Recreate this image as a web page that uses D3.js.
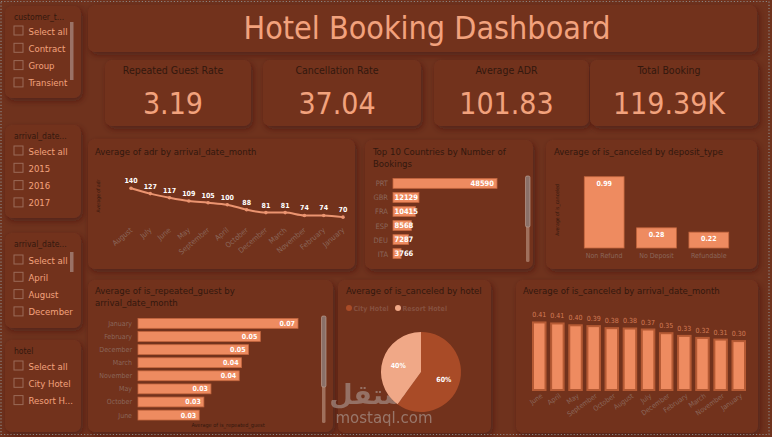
<!DOCTYPE html>
<html>
<head>
<meta charset="utf-8">
<script src="https://cdn.jsdelivr.net/npm/d3@7"></script>
<style>
  html, body { margin: 0; padding: 0; background: #6f321d; }
  svg { display: block; font-family: "DejaVu Sans Condensed", "Liberation Sans Narrow", "Roboto", sans-serif; }
</style>
</head>
<body>
<div id="dash"></div>
<script>
//----------------------------------------------------------------
// data read from the dashboard
var customerTypes = ["Select all", "Contract", "Group", "Transient"];
var yearItems = ["Select all", "2015", "2016", "2017"];
var monthItems = ["Select all", "April", "August", "December"];
var hotelItems = ["Select all", "City Hotel", "Resort H..."];

var kpiLabels = ["Repeated Guest Rate", "Cancellation Rate", "Average ADR", "Total Booking"];
var kpiValues = ["3.19", "37.04", "101.83", "119.39K"];

var adrMonths = ["August", "July", "June", "May", "September", "April", "October", "December", "March", "November", "February", "January"];
var adrValues = [140, 127, 117, 109, 105, 100, 88, 81, 81, 74, 74, 70];

var countries = ["PRT", "GBR", "FRA", "ESP", "DEU", "ITA"];
var countryBookings = [48590, 12129, 10415, 8568, 7287, 3766];

var depositTypes = ["Non Refund", "No Deposit", "Refundable"];
var depositCancel = [0.99, 0.28, 0.22];

var repeatMonths = ["January", "February", "December", "March", "November", "May", "October", "June"];
var repeatValues = [0.068, 0.052, 0.047, 0.044, 0.043, 0.031, 0.028, 0.026];

var hotelNames = ["City Hotel", "Resort Hotel"];
var hotelCancel = [0.42, 0.28];

var cancelMonths = ["June", "April", "May", "September", "October", "August", "July", "December", "February", "March", "November", "January"];
var cancelValues = [0.414, 0.408, 0.397, 0.392, 0.38, 0.378, 0.372, 0.35, 0.334, 0.322, 0.312, 0.303];

//----------------------------------------------------------------
// colours
var bg = "#6f321d", card = "#72331e", salmon = "#f2a27d", barFill = "#ee8b60",
    barLine = "#c4673f", darkText = "#33180e", axisText = "#8a665a";

var W = 772, H = 437;
var svg = d3.select("#dash").append("svg").attr("width", W).attr("height", H);

var defs = svg.append("defs");
var sh = defs.append("filter").attr("id", "shadow")
  .attr("x", "-10%").attr("y", "-10%").attr("width", "125%").attr("height", "130%");
sh.append("feDropShadow").attr("dx", 2).attr("dy", 3).attr("stdDeviation", 3)
  .attr("flood-color", "#3a170a").attr("flood-opacity", 0.55);

svg.append("rect").attr("width", W).attr("height", H).attr("fill", bg);

function cardBox(x, y, w, h) {
  svg.append("rect").attr("x", x).attr("y", y).attr("width", w).attr("height", h)
    .attr("rx", 7).attr("fill", card).attr("filter", "url(#shadow)");
}
function title(x, y, lines, size) {
  var t = svg.append("text").attr("x", x).attr("y", y).attr("fill", darkText)
    .attr("font-size", size || 9.5);
  lines.forEach(function (l, i) {
    t.append("tspan").attr("x", x).attr("dy", i ? 12 : 0).text(l);
  });
}
function scrollbar(x, y1, y2, thumbEnd) {
  svg.append("rect").attr("x", x).attr("y", y1).attr("width", 3.5).attr("height", y2 - y1)
    .attr("rx", 1.5).attr("fill", "#a0705c");
  svg.append("rect").attr("x", x - 0.5).attr("y", y1).attr("width", 4.5).attr("height", thumbEnd - y1)
    .attr("rx", 1.5).attr("fill", "#8a7068").attr("stroke", "#c2a89c").attr("stroke-width", 0.6);
}

//----------------------------------------------------------------
// slicers on the left
function slicer(y, h, name, items, rowY, bar) {
  cardBox(5, y, 76, h);
  svg.append("text").attr("x", 14).attr("y", y + 14).attr("font-size", 8.5)
    .attr("fill", darkText).text(name);
  items.forEach(function (it, i) {
    var cy = rowY + i * 17.3;
    svg.append("rect").attr("x", 14).attr("y", cy - 5).attr("width", 9).attr("height", 9)
      .attr("fill", "none").attr("stroke", "#9a6a58").attr("stroke-width", 1);
    svg.append("text").attr("x", 28.5).attr("y", cy + 3.5).attr("font-size", 9.5)
      .attr("fill", salmon).text(it);
  });
  if (bar) {
    svg.append("rect").attr("x", 70).attr("y", bar[0]).attr("width", 3.5)
      .attr("height", bar[1] - bar[0]).attr("fill", "#9a7266");
  }
}
slicer(6, 92, "customer_t...", customerTypes, 31, [22, 80]);
slicer(125, 93, "arrival_date...", yearItems, 151, null);
slicer(233, 95, "arrival_date...", monthItems, 260, [252, 272]);
slicer(340, 92, "hotel", hotelItems, 366, null);

//----------------------------------------------------------------
// title and KPI cards
cardBox(88, 5, 669, 47);
svg.append("text").attr("x", 427).attr("y", 39).attr("text-anchor", "middle")
  .attr("font-size", 32).attr("fill", salmon).text("Hotel Booking Dashboard");

var kpiX = [105, 263, 434, 590], kpiW = [146, 158, 155, 168];
kpiLabels.forEach(function (l, i) {
  cardBox(kpiX[i], 60, kpiW[i], 66);
  var cx = kpiX[i] + kpiW[i] / 2 - 5;
  svg.append("text").attr("x", cx).attr("y", 74).attr("text-anchor", "middle")
    .attr("font-size", 10.5).attr("fill", darkText).text(l);
  svg.append("text").attr("x", cx).attr("y", 114).attr("text-anchor", "middle")
    .attr("font-size", 30).attr("fill", salmon).text(kpiValues[i]);
});

//----------------------------------------------------------------
// Average of adr by month (line)
cardBox(88, 139, 267, 130);
title(95, 155, ["Average of adr by arrival_date_month"]);
svg.append("text").attr("transform", "translate(100,196) rotate(-90)")
  .attr("text-anchor", "middle").attr("font-size", 5).attr("fill", darkText).text("Average of adr");

var xAdr = d3.scalePoint().domain(adrMonths).range([131, 343]);
var yAdr = d3.scaleLinear().domain([0, 160]).range([246, 180]);
var line = d3.line().x(function (d, i) { return xAdr(adrMonths[i]); })
  .y(function (d) { return yAdr(d); }).curve(d3.curveMonotoneX);
svg.append("path").datum(adrValues).attr("d", line).attr("fill", "none")
  .attr("stroke", "#eb9470").attr("stroke-width", 2);
svg.selectAll(".adrPt").data(adrValues).enter().append("circle")
  .attr("cx", function (d, i) { return xAdr(adrMonths[i]); })
  .attr("cy", function (d) { return yAdr(d); })
  .attr("r", 1.8).attr("fill", "#eb9470");
svg.selectAll(".adrLbl").data(adrValues).enter().append("text")
  .attr("x", function (d, i) { return xAdr(adrMonths[i]); })
  .attr("y", function (d) { return yAdr(d) - 5; })
  .attr("text-anchor", "middle").attr("font-size", 7).attr("font-weight", "bold")
  .attr("fill", "#fff").text(function (d) { return d; });
svg.selectAll(".adrX").data(adrMonths).enter().append("text")
  .attr("transform", function (d) { return "translate(" + (xAdr(d) + 2) + ",231) rotate(-40)"; })
  .attr("text-anchor", "end").attr("font-size", 7.5).attr("fill", axisText).text(function (d) { return d; });

//----------------------------------------------------------------
// Top 10 countries (horizontal bars)
cardBox(365, 140, 168, 129);
title(373, 155, ["Top 10 Countries by Number of", "Bookings"]);
var yCty = d3.scaleBand().domain(countries).range([178.5, 258.5]).paddingInner(0.3);
var xCty = d3.scaleLinear().domain([0, 48590]).range([393, 497]);
svg.selectAll(".ctyBar").data(countries).enter().append("rect")
  .attr("x", xCty(0)).attr("y", function (d) { return yCty(d); })
  .attr("width", function (d, i) { return xCty(countryBookings[i]) - xCty(0); })
  .attr("height", yCty.bandwidth()).attr("fill", barFill).attr("stroke", barLine).attr("stroke-width", 0.8);
svg.selectAll(".ctyLbl").data(countries).enter().append("text")
  .attr("x", function (d, i) { return i === 0 ? xCty(countryBookings[i]) - 3 : xCty(0) + 1.5; })
  .attr("y", function (d) { return yCty(d) + yCty.bandwidth() / 2 + 2.5; })
  .attr("text-anchor", function (d, i) { return i === 0 ? "end" : "start"; })
  .attr("font-size", 7.5).attr("font-weight", "bold").attr("fill", "#fff")
  .text(function (d, i) { return countryBookings[i]; });
svg.selectAll(".ctyY").data(countries).enter().append("text")
  .attr("x", 388).attr("y", function (d) { return yCty(d) + yCty.bandwidth() / 2 + 3; })
  .attr("text-anchor", "end").attr("font-size", 7.5).attr("fill", axisText).text(function (d) { return d; });
scrollbar(526, 176, 262, 227);

//----------------------------------------------------------------
// Average of is_canceled by deposit_type
cardBox(546, 140, 211, 129);
title(554, 155, ["Average of is_canceled by deposit_type"]);
svg.append("text").attr("transform", "translate(559,210) rotate(-90)")
  .attr("text-anchor", "middle").attr("font-size", 5).attr("fill", darkText).text("Average of is_canceled");
var xDep = d3.scaleBand().domain(depositTypes).range([578, 735]).paddingInner(0.24).paddingOuter(0.12);
var yDep = d3.scaleLinear().domain([0, 1]).range([248, 176]);
svg.selectAll(".depBar").data(depositTypes).enter().append("rect")
  .attr("x", function (d) { return xDep(d); })
  .attr("y", function (d, i) { return yDep(depositCancel[i]); })
  .attr("width", xDep.bandwidth())
  .attr("height", function (d, i) { return yDep(0) - yDep(depositCancel[i]); })
  .attr("fill", barFill).attr("stroke", barLine).attr("stroke-width", 0.8);
svg.selectAll(".depLbl").data(depositTypes).enter().append("text")
  .attr("x", function (d) { return xDep(d) + xDep.bandwidth() / 2; })
  .attr("y", function (d, i) { return yDep(depositCancel[i]) + 9; })
  .attr("text-anchor", "middle").attr("font-size", 7).attr("font-weight", "bold").attr("fill", "#fff")
  .text(function (d, i) { return d3.format(".2f")(depositCancel[i]); });
svg.selectAll(".depX").data(depositTypes).enter().append("text")
  .attr("x", function (d) { return xDep(d) + xDep.bandwidth() / 2; })
  .attr("y", 258).attr("text-anchor", "middle").attr("font-size", 7).attr("fill", axisText)
  .text(function (d) { return d; });

//----------------------------------------------------------------
// Average of is_repeated_guest by month
cardBox(88, 280, 245, 152);
title(95, 294, ["Average of is_repeated_guest by", "arrival_date_month"]);
var yRep = d3.scaleBand().domain(repeatMonths).range([318.5, 420]).paddingInner(0.25);
var xRep = d3.scaleLinear().domain([0, 0.068]).range([138, 298]);
svg.selectAll(".repBar").data(repeatMonths).enter().append("rect")
  .attr("x", xRep(0)).attr("y", function (d) { return yRep(d); })
  .attr("width", function (d, i) { return xRep(repeatValues[i]) - xRep(0); })
  .attr("height", yRep.bandwidth()).attr("fill", barFill).attr("stroke", barLine).attr("stroke-width", 0.8);
svg.selectAll(".repLbl").data(repeatMonths).enter().append("text")
  .attr("x", function (d, i) { return xRep(repeatValues[i]) - 3; })
  .attr("y", function (d) { return yRep(d) + yRep.bandwidth() / 2 + 2.5; })
  .attr("text-anchor", "end").attr("font-size", 7).attr("font-weight", "bold").attr("fill", "#fff")
  .text(function (d, i) { return d3.format(".2f")(repeatValues[i]); });
svg.selectAll(".repY").data(repeatMonths).enter().append("text")
  .attr("x", 132).attr("y", function (d) { return yRep(d) + yRep.bandwidth() / 2 + 2.5; })
  .attr("text-anchor", "end").attr("font-size", 7).attr("fill", axisText).text(function (d) { return d; });
svg.append("text").attr("x", 228).attr("y", 427).attr("text-anchor", "middle")
  .attr("font-size", 5.5).attr("fill", darkText).text("Average of is_repeated_guest");
scrollbar(322, 316, 423, 387);

//----------------------------------------------------------------
// Average of is_canceled by hotel (pie)
cardBox(338, 280, 153, 153);
title(346, 294, ["Average of is_canceled by hotel"]);
var pieCol = d3.scaleOrdinal().domain(hotelNames).range(["#a94b27", "#f0a887"]);
var legX = [349, 398];
hotelNames.forEach(function (h, i) {
  svg.append("circle").attr("cx", legX[i]).attr("cy", 308).attr("r", 3).attr("fill", pieCol(h));
  svg.append("text").attr("x", legX[i] + 4.5).attr("y", 310.5).attr("font-size", 7)
    .attr("font-weight", "bold").attr("fill", "#85503f").text(h);
});
var pie = d3.pie().sort(null);
var arc = d3.arc().innerRadius(0).outerRadius(40);
var lblArc = d3.arc().innerRadius(24).outerRadius(24);
var pieTotal = d3.sum(hotelCancel);
var pg = svg.append("g").attr("transform", "translate(421,372)");
pg.selectAll("path").data(pie(hotelCancel)).enter().append("path")
  .attr("d", arc).attr("fill", function (d, i) { return pieCol(hotelNames[i]); });

//----------------------------------------------------------------
// watermark (under the pie labels)
svg.append("text").attr("x", 428).attr("y", 404).attr("text-anchor", "end")
  .attr("font-family", "DejaVu Sans, sans-serif").attr("font-size", 27).attr("font-weight", "bold")
  .attr("fill", "#a9948c").attr("opacity", 0.65).text("مستقل");
svg.append("text").attr("x", 384).attr("y", 423).attr("text-anchor", "middle")
  .attr("font-family", "DejaVu Sans, sans-serif").attr("font-size", 15)
  .attr("fill", "#a9948c").attr("opacity", 0.7).text("mostaql.com");

pg.selectAll("text").data(pie(hotelCancel)).enter().append("text")
  .attr("transform", function (d) { return "translate(" + lblArc.centroid(d) + ")"; })
  .attr("dy", 3).attr("text-anchor", "middle").attr("font-size", 7).attr("font-weight", "bold")
  .attr("fill", "#fff").text(function (d) { return d3.format(".0%")(d.data / pieTotal); });
pg.raise();

//----------------------------------------------------------------
// Average of is_canceled by month (columns)
cardBox(516, 280, 242, 153);
title(523, 294, ["Average of is_canceled by arrival_date_month"]);
var xCan = d3.scaleBand().domain(cancelMonths).range([532, 746]).paddingInner(0.2);
var yCan = d3.scaleLinear().domain([0, 1]).range([391, 223]);
svg.selectAll(".canBar").data(cancelMonths).enter().append("rect")
  .attr("x", function (d) { return xCan(d) + 1; })
  .attr("y", function (d, i) { return yCan(cancelValues[i]) + 1; })
  .attr("width", xCan.bandwidth() - 2)
  .attr("height", function (d, i) { return yCan(0) - yCan(cancelValues[i]) - 2; })
  .attr("fill", barFill).attr("stroke", "#b55a34").attr("stroke-width", 2);
svg.selectAll(".canLbl").data(cancelMonths).enter().append("text")
  .attr("x", function (d) { return xCan(d) + xCan.bandwidth() / 2; })
  .attr("y", function (d, i) { return yCan(cancelValues[i]) - 4; })
  .attr("text-anchor", "middle").attr("font-size", 7).attr("fill", "#d27c56")
  .text(function (d, i) { return d3.format(".2f")(cancelValues[i]); });
svg.selectAll(".canX").data(cancelMonths).enter().append("text")
  .attr("transform", function (d) { return "translate(" + (xCan(d) + xCan.bandwidth() / 2 + 4) + ",397) rotate(-35)"; })
  .attr("text-anchor", "end").attr("font-size", 7).attr("fill", axisText).text(function (d) { return d; });

//----------------------------------------------------------------
// dotted page border
svg.append("rect").attr("x", 1).attr("y", 1.5).attr("width", 768).attr("height", 433)
  .attr("fill", "none").attr("stroke", "#8a8380").attr("stroke-width", 1.2).attr("stroke-dasharray", "1.2,2");
</script>
</body>
</html>
